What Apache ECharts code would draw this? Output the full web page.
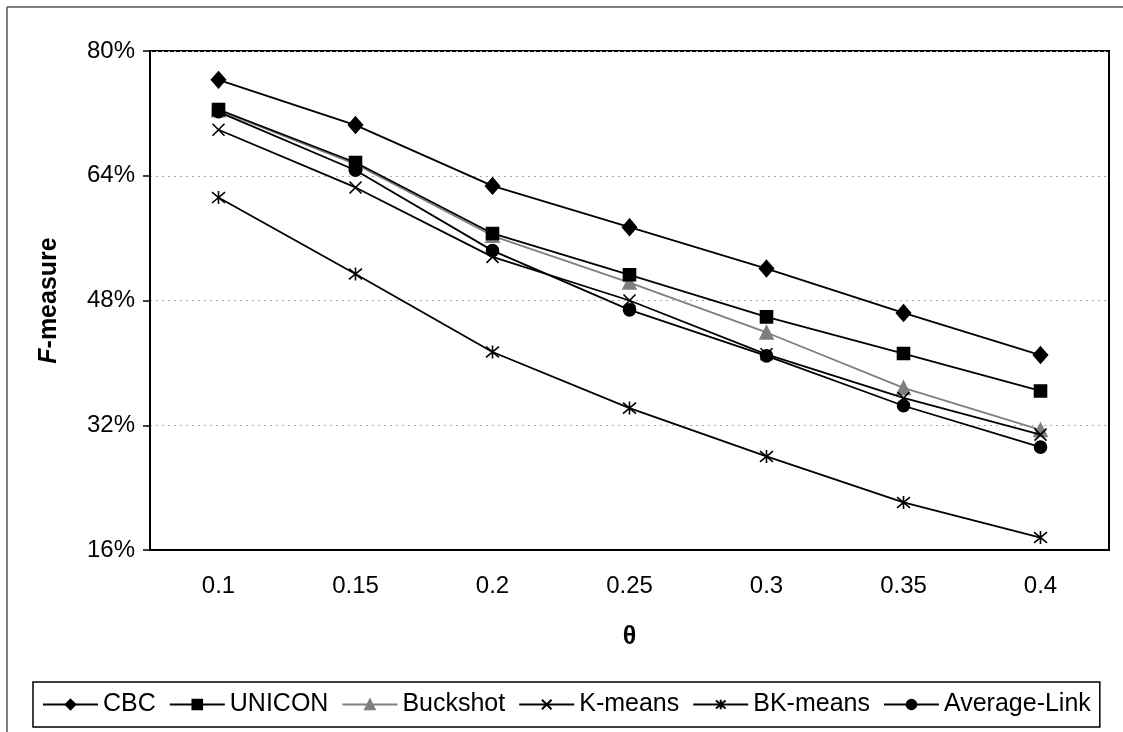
<!DOCTYPE html>
<html>
<head>
<meta charset="utf-8">
<script src="https://cdn.jsdelivr.net/npm/echarts@6/dist/echarts.min.js"></script>
<style>
  html, body { margin: 0; padding: 0; background: #fff; }
  #chart { width: 1123px; height: 732px; }
</style>
</head>
<body>
<div id="chart"></div>
<script>
const thetas = ["0.1", "0.15", "0.2", "0.25", "0.3", "0.35", "0.4"];
const cbc = [76.3, 70.5, 62.7, 57.4, 52.1, 46.4, 41.0];
const unicon = [72.5, 65.7, 56.6, 51.3, 45.9, 41.2, 36.4];
const buckshot = [72.4, 65.5, 56.3, 50.3, 43.9, 36.8, 31.4];
const kmeans = [69.9, 62.5, 53.6, 48.0, 41.1, 35.5, 30.8];
const bkmeans = [61.2, 51.4, 41.4, 34.2, 28.0, 22.1, 17.6];
const avgLink = [72.2, 64.7, 54.4, 46.8, 40.9, 34.5, 29.2];

const font = "Liberation Sans, Arial, sans-serif";
const xMark = "path://M0,0L10,10M10,0L0,10";
const starMark = "path://M0,0L10,10M10,0L0,10M5,-1L5,11";

function line(name, data, symbol, size, color, z) {
  return {
    name: name,
    type: "line",
    data: data,
    symbol: symbol,
    symbolSize: size,
    z: z || 2,
    lineStyle: { color: color, width: 1.8 },
    itemStyle: { color: color, borderColor: color, borderWidth: 1.6 },
    emphasis: { disabled: true },
  };
}

const chart = echarts.init(document.getElementById("chart"));
chart.setOption({
  animation: false,
  backgroundColor: "#fff",
  textStyle: { fontFamily: font, color: "#000" },
  grid: {
    left: 150,
    right: 14,
    top: 51,
    bottom: 182,
    show: true,
    borderColor: "#000",
    borderWidth: 2,
  },
  legend: {
    left: 33,
    top: 682,
    padding: [10, 9],
    itemGap: 13,
    itemWidth: 55,
    itemHeight: 12,
    borderColor: "#000",
    borderWidth: 1.5,
    textStyle: { fontFamily: font, fontSize: 25, color: "#000" },
  },
  xAxis: {
    type: "category",
    data: thetas,
    boundaryGap: true,
    name: "θ",
    nameLocation: "middle",
    nameGap: 75,
    nameTextStyle: { fontFamily: font, fontSize: 25, fontWeight: "bold", color: "#000" },
    axisLine: { lineStyle: { color: "#000", width: 2 } },
    axisTick: { length: 7, lineStyle: { color: "#000", width: 1.5 } },
    axisLabel: { fontFamily: font, fontSize: 24, color: "#000", margin: 24 },
  },
  yAxis: {
    type: "value",
    min: 16,
    max: 80,
    interval: 16,
    name: "{i|F}-measure",
    nameLocation: "middle",
    nameGap: 88,
    nameTextStyle: {
      fontFamily: font,
      fontSize: 25,
      fontWeight: "bold",
      color: "#000",
      rich: { i: { fontFamily: font, fontSize: 25, fontWeight: "bold", fontStyle: "italic", color: "#000" } },
    },
    axisLine: { show: true, lineStyle: { color: "#000", width: 2 } },
    axisTick: { show: true, length: 7, lineStyle: { color: "#000", width: 1.5 } },
    axisLabel: { fontFamily: font, fontSize: 24, color: "#000", margin: 15, formatter: "{value}%" },
    splitLine: { lineStyle: { color: "#aaa", type: [2, 4], width: 1 } },
  },
  graphic: [
    { type: "line", shape: { x1: 7, y1: 7, x2: 7, y2: 732 }, style: { stroke: "#555", lineWidth: 1.5 } },
    { type: "line", shape: { x1: 7, y1: 7, x2: 1123, y2: 7 }, style: { stroke: "#555", lineWidth: 1.5 } },
  ],
  series: [
    line("CBC", cbc, "diamond", [14, 16], "#000"),
    line("UNICON", unicon, "rect", 12, "#000"),
    line("Buckshot", buckshot, "triangle", 13, "#7f7f7f", 1),
    line("K-means", kmeans, xMark, 12, "#000"),
    line("BK-means", bkmeans, starMark, 13, "#000"),
    line("Average-Link", avgLink, "circle", 12, "#000"),
  ],
});
</script>
</body>
</html>
